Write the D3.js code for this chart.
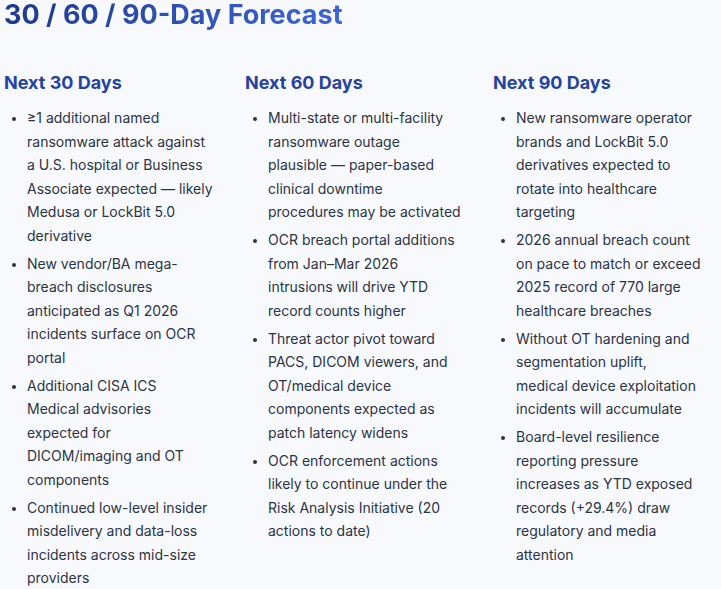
<!DOCTYPE html>
<html lang="en">
<head>
<meta charset="utf-8">
<title>30 / 60 / 90-Day Forecast</title>
<script src="https://cdn.jsdelivr.net/npm/d3@7"></script>
<style>
  body { margin: 0; background: #f8f9fc; font-family: Inter, "Noto Sans", sans-serif; width: 721px; height: 589px; overflow: hidden; }
  h1 { position: absolute; left: 4px; top: -3px; margin: 0; font-size: 27px; font-weight: 700; line-height: 36px;
       background: linear-gradient(90deg, #1e3a8a, #3d66d6); -webkit-background-clip: text; background-clip: text; color: transparent; }
  .col { position: absolute; top: 72px; }
  .col h2 { margin: 0; font-size: 18px; font-weight: 700; color: #2543a0; }
  .col ul { margin: 13px 0 0 0; padding-left: 23px; }
  .col li { font-size: 14px; line-height: 23.5px; color: #2b3445; margin-bottom: 4.5px; white-space: pre-line; }
  .col li::marker { font-size: 12px; }
</style>
</head>
<body>
<h1>30 / 60 / 90-Day Forecast</h1>
<script>
// column headings and bullet text (line breaks as in the reference)
var headings = ["Next 30 Days", "Next 60 Days", "Next 90 Days"];
var bullets30 = [
  "≥1 additional named\nransomware attack against\na U.S. hospital or Business\nAssociate expected — likely\nMedusa or LockBit 5.0\nderivative",
  "New vendor/BA mega-\nbreach disclosures\nanticipated as Q1 2026\nincidents surface on OCR\nportal",
  "Additional CISA ICS\nMedical advisories\nexpected for\nDICOM/imaging and OT\ncomponents",
  "Continued low-level insider\nmisdelivery and data-loss\nincidents across mid-size\nproviders"
];
var bullets60 = [
  "Multi-state or multi-facility\nransomware outage\nplausible — paper-based\nclinical downtime\nprocedures may be activated",
  "OCR breach portal additions\nfrom Jan–Mar 2026\nintrusions will drive YTD\nrecord counts higher",
  "Threat actor pivot toward\nPACS, DICOM viewers, and\nOT/medical device\ncomponents expected as\npatch latency widens",
  "OCR enforcement actions\nlikely to continue under the\nRisk Analysis Initiative (20\nactions to date)"
];
var bullets90 = [
  "New ransomware operator\nbrands and LockBit 5.0\nderivatives expected to\nrotate into healthcare\ntargeting",
  "2026 annual breach count\non pace to match or exceed\n2025 record of 770 large\nhealthcare breaches",
  "Without OT hardening and\nsegmentation uplift,\nmedical device exploitation\nincidents will accumulate",
  "Board-level resilience\nreporting pressure\nincreases as YTD exposed\nrecords (+29.4%) draw\nregulatory and media\nattention"
];

var columns = [bullets30, bullets60, bullets90];
var lefts = [4, 245, 493];

var cols = d3.select("body").selectAll("div.col")
  .data(columns)
  .enter()
  .append("div")
  .attr("class", "col")
  .style("left", function(d, i) { return lefts[i] + "px"; })
  .style("width", "225px");

cols.append("h2").text(function(d, i) { return headings[i]; });

cols.append("ul")
  .selectAll("li")
  .data(function(d) { return d; })
  .enter()
  .append("li")
  .text(function(d) { return d; });
</script>
</body>
</html>
